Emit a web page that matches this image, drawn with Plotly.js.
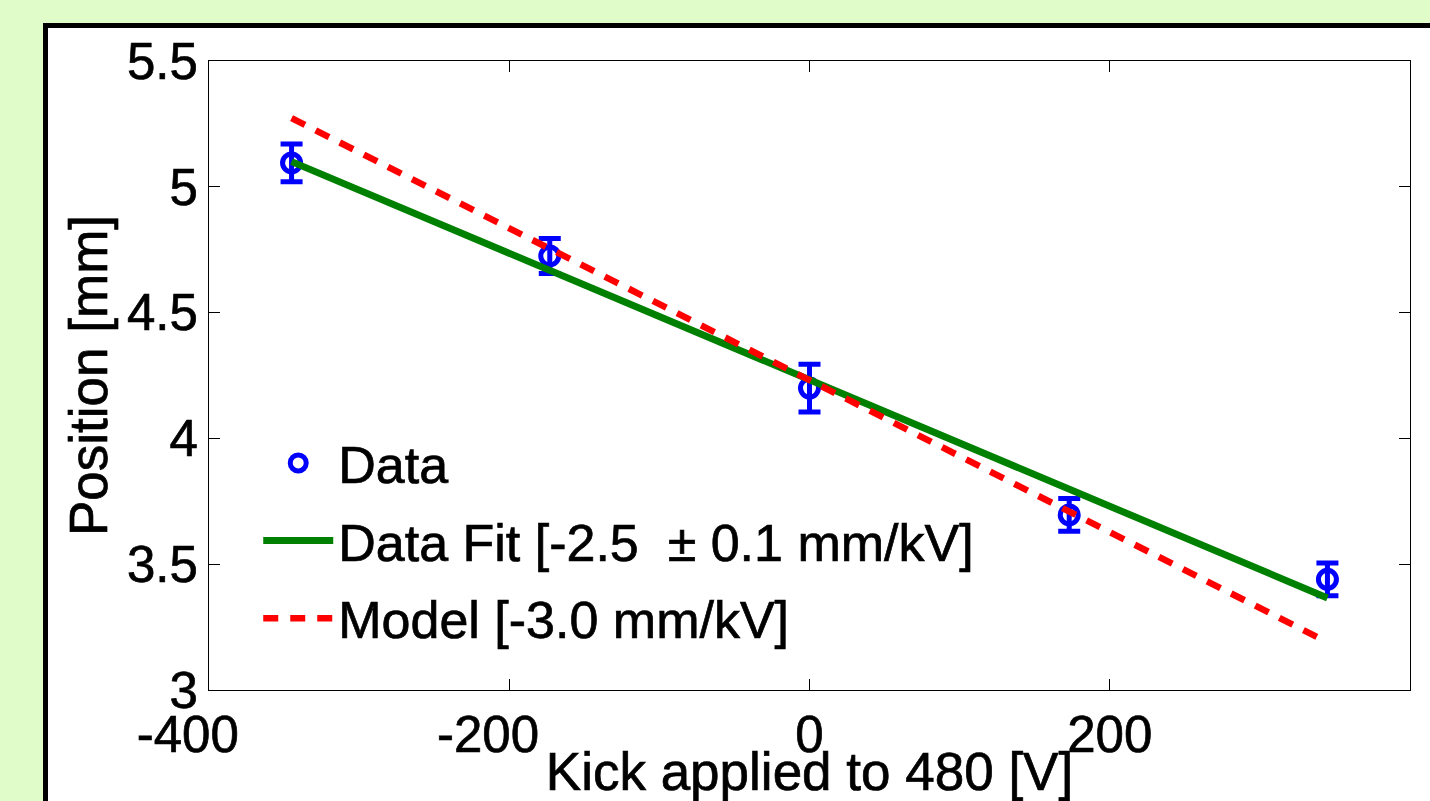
<!DOCTYPE html>
<html>
<head>
<meta charset="utf-8">
<script src="https://cdn.plot.ly/plotly-3.0.1.min.js"></script>
<style>
html,body{margin:0;padding:0;width:1430px;height:801px;overflow:hidden;background:#e0fcc8;}
#panel{position:absolute;left:43px;top:23px;width:1500px;height:900px;border:5px solid #000;background:#fff;}
#chart{position:absolute;left:0;top:0;width:1430px;height:801px;}
#chart text{stroke:#000;stroke-width:0.7px;}
</style>
</head>
<body>
<div id="panel"></div>
<div id="chart"></div>
<script>
// Data
const kickV = [-345, -173, 0, 173, 345];
const positionMm = [5.095, 4.725, 4.20, 3.696, 3.44];
const positionErr = [0.075, 0.07, 0.095, 0.065, 0.065];

const fitX = [-345, 345];
const fitY = [5.10, 3.366];
const modelX = [-345, 345];
const modelY = [5.273, 3.19];

const xTicks = [-400, -200, 0, 200, 400];
const xTickText = ['-400\u00a0\u00a0\u00a0', '-200\u00a0\u00a0\u00a0', '0', '200', '400'];
const yTicks = [3, 3.5, 4, 4.5, 5, 5.5];
const yTickText = ['3', '3.5', '4', '4.5', '5', '5.5'];

const legendNames = ['Data', 'Data Fit [-2.5  \u00b1 0.1 mm/kV]', 'Model [-3.0 mm/kV]'];

const FONT = 'Arial, "Liberation Sans", sans-serif';

const traces = [
  {
    x: kickV, y: positionMm, type: 'scatter', mode: 'markers', name: legendNames[0], legendgroup: 'a',
    marker: {symbol: 'circle-open', size: 18, color: '#0000ff', line: {width: 5, color: '#0000ff'}},
    error_y: {type: 'data', array: positionErr, visible: true, color: '#0000ff', thickness: 5, width: 11}
  },
  {
    x: fitX, y: fitY, type: 'scatter', mode: 'lines', name: legendNames[1], legendgroup: 'b',
    line: {color: '#008000', width: 7}
  },
  {
    x: modelX, y: modelY, type: 'scatter', mode: 'lines', name: legendNames[2], legendgroup: 'c',
    line: {color: '#ff0000', width: 6.5, dash: '15px,12px'}
  }
];

const axisCommon = {
  showgrid: false, zeroline: false, showline: true, linecolor: '#000', linewidth: 1,
  mirror: 'ticks', ticks: 'inside', ticklen: 11, tickwidth: 1, tickcolor: '#000',
  tickfont: {family: FONT, size: 51, color: '#000'}
};

const layout = {
  width: 1430, height: 801,
  paper_bgcolor: 'rgba(0,0,0,0)', plot_bgcolor: '#fff',
  margin: {l: 209, r: 20, t: 61, b: 111},
  showlegend: true,
  legend: {
    x: 0.041, y: 0.425, xanchor: 'left', yanchor: 'top',
    bgcolor: 'rgba(0,0,0,0)', borderwidth: 0,
    font: {family: FONT, size: 52, color: '#000'},
    itemwidth: 70, tracegroupgap: 7
  },
  xaxis: Object.assign({}, axisCommon, {
    range: [-400, 400], tickvals: xTicks, ticktext: xTickText,
    title: {text: 'Kick applied to 480 [V]', font: {family: FONT, size: 53, color: '#000'}, standoff: 14}
  }),
  yaxis: Object.assign({}, axisCommon, {
    range: [3, 5.5], tickvals: yTicks, ticktext: yTickText,
    title: {text: 'Position [mm]', font: {family: FONT, size: 53, color: '#000'}, standoff: 2}
  })
};

Plotly.newPlot('chart', traces, layout, {displayModeBar: false, staticPlot: true});
</script>
</body>
</html>
